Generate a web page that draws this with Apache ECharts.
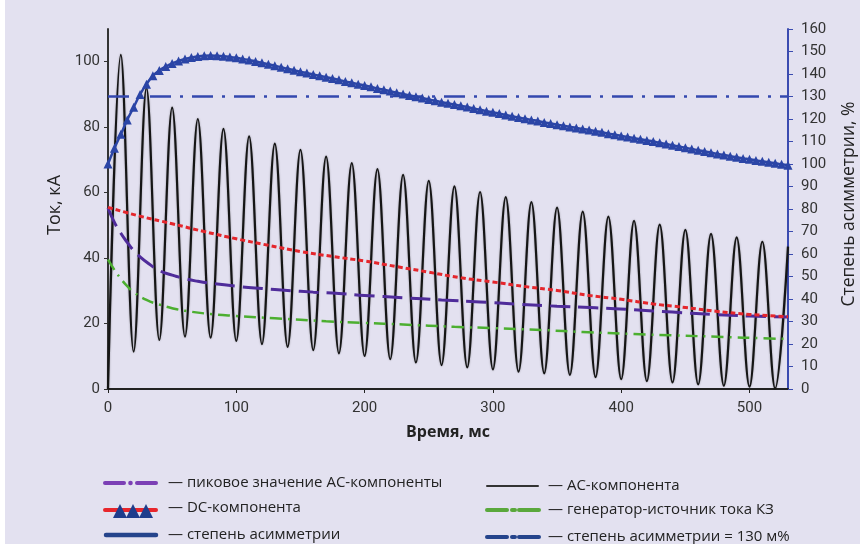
<!DOCTYPE html>
<html><head><meta charset="utf-8">
<script src="https://cdn.jsdelivr.net/npm/echarts@6/dist/echarts.min.js"></script>
<style>html,body{margin:0;padding:0;background:#fff}#c{width:860px;height:544px}</style>
</head><body><div id="c"></div>
<script>
// ---- tick labels ----
const xTicks = [0, 100, 200, 300, 400, 500];
const leftTicks = [0, 20, 40, 60, 80, 100];
const rightTicks = [0,10,20,30,40,50,60,70,80,90,100,110,120,130,140,150,160];

// ---- AC component: extremes every 10 ms (t = 0..530) ----
const acValues = [0,102.1,11.4,92.0,15.0,86.0,16.0,82.5,15.7,79.5,
  14.7,77.2,13.7,75.0,12.9,73.1,11.9,71.0,10.9,69.0,
  10.1,67.2,9.1,65.4,8.1,63.6,7.3,61.9,6.6,60.2,
  6.0,58.6,5.3,57.1,4.8,55.4,4.3,54.2,3.6,52.7,
  3.0,51.4,2.4,50.2,2.0,48.6,1.4,47.4,1.0,46.3,
  0.7,45.0,0.2,43.5];
const acTimes = acValues.map((v, i) => i * 10);

// ---- asymmetry degree (right axis, %), every 5 ms ----
const asymValues = [100,107,113.2,119.6,125.2,130.9,135.5,139.2,141.6,143.3,
  144.7,145.8,146.7,147.3,147.8,148.1,148.2,148.1,147.9,147.6,
  147.2,146.7,146.2,145.6,145.0,144.3,143.7,143.0,142.3,141.7,
  141.0,140.4,139.8,139.2,138.6,138.0,137.4,136.7,136.1,135.5,
  134.9,134.3,133.6,133.0,132.4,131.7,131.1,130.5,129.9,129.3,
  128.7,128.1,127.5,127.0,126.4,125.9,125.3,124.7,124.1,123.5,
  123.0,122.4,121.8,121.2,120.7,120.1,119.6,119.1,118.5,118.0,
  117.5,117.0,116.5,116.0,115.6,115.1,114.6,114.1,113.5,113.0,
  112.5,112.0,111.5,111.0,110.5,110.0,109.4,108.9,108.3,107.8,
  107.2,106.7,106.1,105.6,105.0,104.5,104.0,103.5,103.0,102.5,
  102.1,101.6,101.2,100.8,100.3,99.9,99.5];
const asymTimes = asymValues.map((v, i) => i * 5);

// ---- DC component ----
const dcTimes  = [0,25,50,75,100,125,150,175,200,225,250,275,300,325,350,375,400,425,450,475,500,530];
const dcValues = [55.5,52.8,50.5,48.1,45.9,43.9,42.0,40.5,39.1,37.4,35.7,34.0,32.7,31.3,30.1,28.6,27.4,26.0,24.9,23.7,22.8,22.1];

// ---- AC peak value ----
const peakTimes  = [0,5,10,15,20,25,30,40,50,60,70,80,100,120,140,160,180,200,230,260,290,320,350,380,410,440,470,500,530];
const peakValues = [55.3,50.9,47.6,44.8,42.3,40.4,38.8,36.2,34.8,33.7,32.9,32.3,31.4,30.7,30.1,29.6,29.2,28.6,27.9,27.2,26.6,25.9,25.3,24.8,24.2,23.5,22.8,22.3,22.0];

// ---- generator source current ----
const genTimes  = [0,5,10,15,20,30,40,50,60,80,100,130,170,200,230,270,300,340,370,410,440,480,510,530];
const genValues = [39.5,36.4,33.7,31.4,29.6,27.2,25.8,24.7,23.9,22.9,22.3,21.6,20.7,20.2,19.7,19.0,18.6,18.0,17.4,16.8,16.4,15.9,15.5,15.3];

// ---- asymmetry limit 130 % ----
const limitTimes = [0, 530];
const limitValues = [130, 130];

const zip = (a, b) => a.map((t, i) => [t, b[i]]);
const FONT = '"Open Sans"';

const legendLeft = [
  { text: '— пиковое значение AC-компоненты', y: 483 },
  { text: '— DC-компонента', y: 508 },
  { text: '— степень асимметрии', y: 535 }
];
const legendRight = [
  { text: '— AC-компонента', y: 486 },
  { text: '— генератор-источник тока КЗ', y: 510 },
  { text: '— степень асимметрии = 130 м%', y: 537 }
];

function seg(x1, y1, x2, y2, color, w) {
  return { type: 'line', shape: { x1, y1, x2, y2 }, style: { stroke: color, lineWidth: w, lineCap: 'round' }, silent: true };
}
function dashDot(x, y, color) {
  return [seg(x, y, x + 20, y, color, 4), seg(x + 25, y, x + 28, y, color, 4), seg(x + 32, y, x + 52, y, color, 4)];
}
const g = [];
g.push({ type: 'rect', shape: { x: 0, y: 0, width: 5, height: 544 }, style: { fill: '#ffffff' }, silent: true });
// left legend icons
g.push(...[seg(105, 483, 124, 483, '#7b3fb5', 4),
  { type: 'circle', shape: { cx: 130.5, cy: 483, r: 2.3 }, style: { fill: '#7b3fb5' } },
  seg(137, 483, 156, 483, '#7b3fb5', 4)]);
g.push(seg(105, 510, 156, 510, '#e8262c', 4));
[120, 133, 146].forEach(cx => g.push({ type: 'polygon', shape: { points: [[cx - 7, 518], [cx, 504], [cx + 7, 518]] }, style: { fill: '#1f3d8c' } }));
g.push(seg(106, 535, 156, 535, '#25448c', 4.5));
// right legend icons
g.push(seg(487, 486, 538, 486, '#333333', 2));
g.push(...dashDot(487, 510, '#5aa83c'));
g.push(...dashDot(487, 537, '#25448c'));
legendLeft.forEach(r => g.push({ type: 'text', x: 168, y: r.y, style: { text: r.text, font: '15px ' + FONT, fill: '#222', textVerticalAlign: 'middle' } }));
legendRight.forEach(r => g.push({ type: 'text', x: 548, y: r.y, style: { text: r.text, font: '15px ' + FONT, fill: '#222', textVerticalAlign: 'middle' } }));
// axis titles
g.push({ type: 'text', x: 55, y: 205, rotation: Math.PI / 2, style: { text: 'Ток, кА', font: '500 18px ' + FONT, fill: '#222', textAlign: 'center', textVerticalAlign: 'middle' } });
g.push({ type: 'text', x: 849, y: 204, rotation: Math.PI / 2, style: { text: 'Степень асимметрии, %', font: '500 17.5px ' + FONT, fill: '#222', textAlign: 'center', textVerticalAlign: 'middle' } });
g.push({ type: 'text', x: 448, y: 432, style: { text: 'Время, мс', font: 'bold 16px ' + FONT, fill: '#222', textAlign: 'center', textVerticalAlign: 'middle' } });

const chart = echarts.init(document.getElementById('c'), null, { renderer: 'canvas' });
chart.setOption({
  backgroundColor: '#e3e1f0',
  animation: false,
  grid: { left: 108, right: 72, top: 29, bottom: 155 },
  xAxis: {
    type: 'value', min: 0, max: 530, interval: 100,
    axisLine: { lineStyle: { color: '#222', width: 2 } },
    axisTick: { show: true, customValues: xTicks, length: 4, lineStyle: { color: '#222', width: 1 } },
    axisLabel: { customValues: xTicks, color: '#333', fontSize: 15, fontFamily: 'Roboto', margin: 12 },
    splitLine: { show: false }
  },
  yAxis: [
    {
      type: 'value', min: 0, max: 110, interval: 20, position: 'left',
      axisLine: { show: true, lineStyle: { color: '#333', width: 2 } },
      axisTick: { show: true, customValues: leftTicks, length: 4, lineStyle: { color: '#333' } },
      axisLabel: { customValues: leftTicks, color: '#333', fontSize: 15, fontFamily: 'Roboto', margin: 8 },
      splitLine: { show: false }
    },
    {
      type: 'value', min: 0, max: 160, interval: 10, position: 'right',
      axisLine: { show: true, lineStyle: { color: '#3b4bb0', width: 2 } },
      axisTick: { show: true, customValues: rightTicks, length: 5, lineStyle: { color: '#3b4bb0' } },
      axisLabel: { customValues: rightTicks, color: '#333', fontSize: 15, fontFamily: 'Roboto', margin: 13 },
      splitLine: { show: false }
    }
  ],
  series: [
    { name: 'AC-компонента', type: 'line', data: zip(acTimes, acValues), smooth: 0.36, showSymbol: false,
      lineStyle: { color: '#151515', width: 2.2, shadowColor: 'rgba(0,0,0,0.35)', shadowBlur: 2 }, z: 2 },
    { name: 'генератор-источник тока КЗ', type: 'line', data: zip(genTimes, genValues), smooth: true, showSymbol: false,
      lineStyle: { color: '#4caf30', width: 2.5, type: [12, 6, 2, 6] }, z: 3 },
    { name: 'пиковое значение AC-компоненты', type: 'line', data: zip(peakTimes, peakValues), smooth: true, showSymbol: false,
      lineStyle: { color: '#4f2c9a', width: 3, type: [20, 8] }, z: 3 },
    { name: 'DC-компонента', type: 'line', data: zip(dcTimes, dcValues), smooth: true, showSymbol: false,
      lineStyle: { color: '#e4262c', width: 3, type: [5, 3] }, z: 3 },
    { name: 'степень асимметрии = 130 м%', type: 'line', yAxisIndex: 1, data: zip(limitTimes, limitValues), showSymbol: false,
      lineStyle: { color: '#3448ae', width: 2.5, type: [21, 9, 3, 9] }, z: 3 },
    { name: 'степень асимметрии', type: 'line', yAxisIndex: 1, data: zip(asymTimes, asymValues), smooth: true,
      symbol: 'triangle', symbolSize: 9, showAllSymbol: true,
      itemStyle: { color: '#2b45a6' }, lineStyle: { color: '#2b45a6', width: 2.5 }, z: 4 }
  ],
  graphic: g
});
</script></body></html>
